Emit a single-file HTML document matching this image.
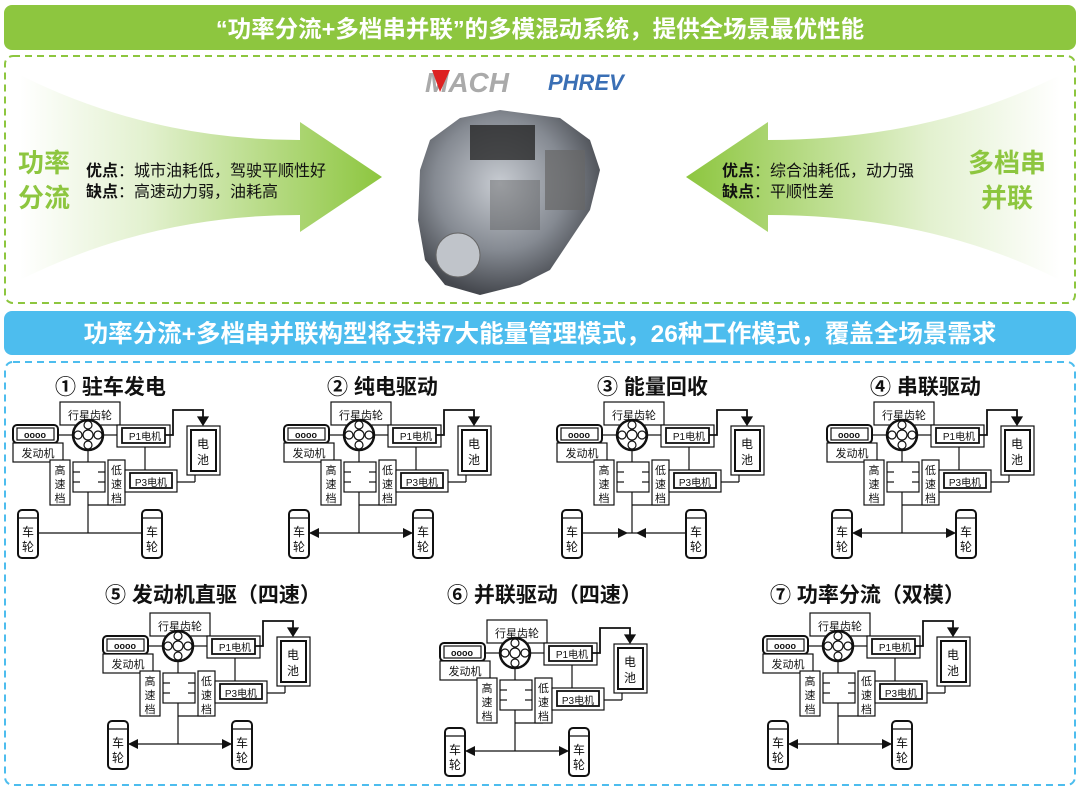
<!DOCTYPE html>
<html><head><meta charset="utf-8"><style>
html,body{margin:0;padding:0;background:#fff}
svg{display:block}
text{font-family:"Liberation Sans","Noto Sans CJK SC",sans-serif}
</style></head><body>
<svg width="1080" height="791" viewBox="0 0 1080 791" xmlns="http://www.w3.org/2000/svg">
<defs>
<linearGradient id="gl" x1="0" x2="1" y1="0" y2="0"><stop offset="0" stop-color="#8dc63f" stop-opacity="0"/><stop offset="0.35" stop-color="#8dc63f" stop-opacity="0.25"/><stop offset="1" stop-color="#8dc63f"/></linearGradient>
<linearGradient id="gr" x1="1" x2="0" y1="0" y2="0"><stop offset="0" stop-color="#8dc63f" stop-opacity="0"/><stop offset="0.35" stop-color="#8dc63f" stop-opacity="0.25"/><stop offset="1" stop-color="#8dc63f"/></linearGradient>
<radialGradient id="eng" cx="0.45" cy="0.4" r="0.6"><stop offset="0" stop-color="#c8ccd2"/><stop offset="0.6" stop-color="#858a92"/><stop offset="1" stop-color="#45484e"/></radialGradient>
</defs>
<rect x="4" y="5" width="1072" height="45" rx="8" fill="#8dc63f"/>
<text x="540" y="37" font-size="23.5" font-weight="bold" fill="#fff" text-anchor="middle">“功率分流+多档串并联”的多模混动系统，提供全场景最优性能</text>
<rect x="5" y="56" width="1070" height="247" rx="8" fill="none" stroke="#8dc63f" stroke-width="2" stroke-dasharray="7,5"/>
<path d="M20,75 Q150,140 300,140 L300,122 L382,177 L300,232 L300,215 Q150,215 20,280 Z" fill="url(#gl)"/>
<path d="M1060,75 Q930,140 768,140 L768,122 L686,177 L768,232 L768,215 Q930,215 1060,280 Z" fill="url(#gr)"/>
<text x="18" y="172" font-size="26" font-weight="bold" fill="#8dc63f">功率</text>
<text x="18" y="207" font-size="26" font-weight="bold" fill="#8dc63f">分流</text>
<text x="86" y="176" font-size="16" fill="#111"><tspan font-weight="bold">优点</tspan>：城市油耗低，驾驶平顺性好</text>
<text x="86" y="197" font-size="16" fill="#111"><tspan font-weight="bold">缺点</tspan>：高速动力弱，油耗高</text>
<text x="968" y="172" font-size="26" font-weight="bold" fill="#8dc63f">多档串</text>
<text x="981" y="207" font-size="26" font-weight="bold" fill="#8dc63f">并联</text>
<text x="722" y="176" font-size="16" fill="#111"><tspan font-weight="bold">优点</tspan>：综合油耗低，动力强</text>
<text x="722" y="197" font-size="16" fill="#111"><tspan font-weight="bold">缺点</tspan>：平顺性差</text>
<text x="425" y="92" font-size="28" font-weight="bold" font-style="italic" fill="#aaa">MACH</text>
<polygon points="432,70 450,70 440,92" fill="#d22"/>
<text x="548" y="90" font-size="22" font-weight="bold" font-style="italic" fill="#3a6fb5">PHREV</text>
<path d="M430,140 L460,118 L500,110 L560,118 L590,140 L600,170 L590,210 L570,240 L550,270 L520,285 L480,295 L445,285 L425,260 L418,220 L420,170 Z" fill="url(#eng)"/>
<rect x="470" y="125" width="65" height="35" fill="#222" opacity="0.75"/>
<circle cx="458" cy="255" r="22" fill="#c0c4ca" stroke="#666"/>
<rect x="545" y="150" width="40" height="60" fill="#666" opacity="0.7"/>
<rect x="490" y="180" width="50" height="50" fill="#555" opacity="0.4"/>
<rect x="4" y="311" width="1072" height="44" rx="8" fill="#4dbdee"/>
<text x="540" y="342" font-size="24.5" font-weight="bold" fill="#fff" text-anchor="middle">功率分流+多档串并联构型将支持7大能量管理模式，26种工作模式，覆盖全场景需求</text>
<rect x="5" y="362" width="1070" height="423" rx="8" fill="none" stroke="#4dbdee" stroke-width="2" stroke-dasharray="7,5"/>
<g font-size="21" font-weight="bold" fill="#111">
<text x="55" y="394">① 驻车发电</text>
<text x="327" y="394">② 纯电驱动</text>
<text x="597" y="394">③ 能量回收</text>
<text x="870" y="394">④ 串联驱动</text>
<text x="105" y="602">⑤ 发动机直驱（四速）</text>
<text x="447" y="602">⑥ 并联驱动（四速）</text>
<text x="770" y="602">⑦ 功率分流（双模）</text>
</g>
<g id="d1" fill="none" stroke="#111" stroke-width="1.2">
<line x1="58" y1="435" x2="73" y2="435"/><line x1="103" y1="435" x2="117" y2="435"/>
<line x1="145" y1="447" x2="145" y2="475"/><line x1="88" y1="450" x2="88" y2="462"/>
<line x1="177" y1="482" x2="195" y2="482"/><line x1="195" y1="482" x2="195" y2="475"/>
<line x1="88" y1="492" x2="88" y2="533"/><line x1="38" y1="533" x2="142" y2="533"/>
<line x1="116" y1="505" x2="88" y2="505"/>
<rect x="60" y="402" width="60" height="23" fill="#fff"/>
<rect x="13" y="425" width="45" height="18" rx="4" stroke-width="2" fill="#fff"/>
<rect x="17" y="428" width="37" height="12" fill="#fff"/>
<rect x="13" y="443" width="50" height="19" fill="#fff"/>
<circle cx="88" cy="435" r="15" stroke-width="2.5" fill="#fff"/>
<circle cx="88" cy="425" r="4" fill="#fff"/><circle cx="78" cy="435" r="4" fill="#fff"/><circle cx="98" cy="435" r="4" fill="#fff"/><circle cx="88" cy="445" r="4" fill="#fff"/><circle cx="88" cy="435" r="5" fill="#fff"/>
<rect x="117" y="425" width="53" height="22" fill="#fff"/><rect x="122" y="428" width="43" height="15" stroke-width="1.8"/>
<path d="M165,435 L173,435 L173,410 L203,410 L203,418" stroke-width="1.8"/>
<polygon points="198,417 208,417 203,425" fill="#111"/>
<rect x="187" y="426" width="33" height="49" fill="#fff"/><rect x="191" y="430" width="25" height="41" stroke-width="2"/>
<rect x="50" y="460" width="20" height="45" fill="#fff"/>
<rect x="73" y="462" width="32" height="30" fill="#fff"/>
<line x1="73" y1="472" x2="80" y2="472"/><line x1="73" y1="482" x2="80" y2="482"/><line x1="98" y1="472" x2="105" y2="472"/><line x1="98" y1="482" x2="105" y2="482"/>
<rect x="108" y="460" width="17" height="45" fill="#fff"/>
<rect x="125" y="470" width="52" height="22" fill="#fff"/><rect x="130" y="473" width="42" height="15" stroke-width="1.8"/>
<rect x="18" y="510" width="20" height="48" rx="4" stroke-width="2" fill="#fff"/><line x1="18" y1="518" x2="38" y2="518"/>
<rect x="142" y="510" width="20" height="48" rx="4" stroke-width="2" fill="#fff"/><line x1="142" y1="518" x2="162" y2="518"/>
<g fill="#111" stroke="none" font-size="11">
<text x="90" y="419" text-anchor="middle">行星齿轮</text>
<text x="35" y="438" text-anchor="middle" font-size="9" font-weight="bold">oooo</text>
<text x="38" y="457" text-anchor="middle">发动机</text>
<text x="145" y="440" text-anchor="middle" font-size="10">P1电机</text>
<text x="151" y="486" text-anchor="middle" font-size="10">P3电机</text>
<text x="203" y="448" text-anchor="middle" font-size="12">电</text><text x="203" y="464" text-anchor="middle" font-size="12">池</text>
<text x="60" y="474" text-anchor="middle">高</text><text x="60" y="488" text-anchor="middle">速</text><text x="60" y="502" text-anchor="middle">档</text>
<text x="116.5" y="474" text-anchor="middle">低</text><text x="116.5" y="488" text-anchor="middle">速</text><text x="116.5" y="502" text-anchor="middle">档</text>
<text x="28" y="536" text-anchor="middle" font-size="12">车</text><text x="28" y="551" text-anchor="middle" font-size="12">轮</text>
<text x="152" y="536" text-anchor="middle" font-size="12">车</text><text x="152" y="551" text-anchor="middle" font-size="12">轮</text>
</g>
</g>
<use href="#d1" transform="translate(271,0)"/>
<use href="#d1" transform="translate(544,0)"/>
<use href="#d1" transform="translate(814,0)"/>
<use href="#d1" transform="translate(90,211)"/>
<use href="#d1" transform="translate(427,218)"/>
<use href="#d1" transform="translate(750,211)"/>
<g fill="#111">
<polygon points="309,533 319,528 319,538"/><polygon points="413,533 403,528 403,538"/>
<polygon points="628,533 618,528 618,538"/><polygon points="636,533 646,528 646,538"/>
<polygon points="852,533 862,528 862,538"/><polygon points="956,533 946,528 946,538"/>
<polygon points="128,744 138,739 138,749"/><polygon points="232,744 222,739 222,749"/>
<polygon points="465,751 475,746 475,756"/><polygon points="569,751 559,746 559,756"/>
<polygon points="788,744 798,739 798,749"/><polygon points="892,744 882,739 882,749"/>
</g>
</svg>
</body></html>
